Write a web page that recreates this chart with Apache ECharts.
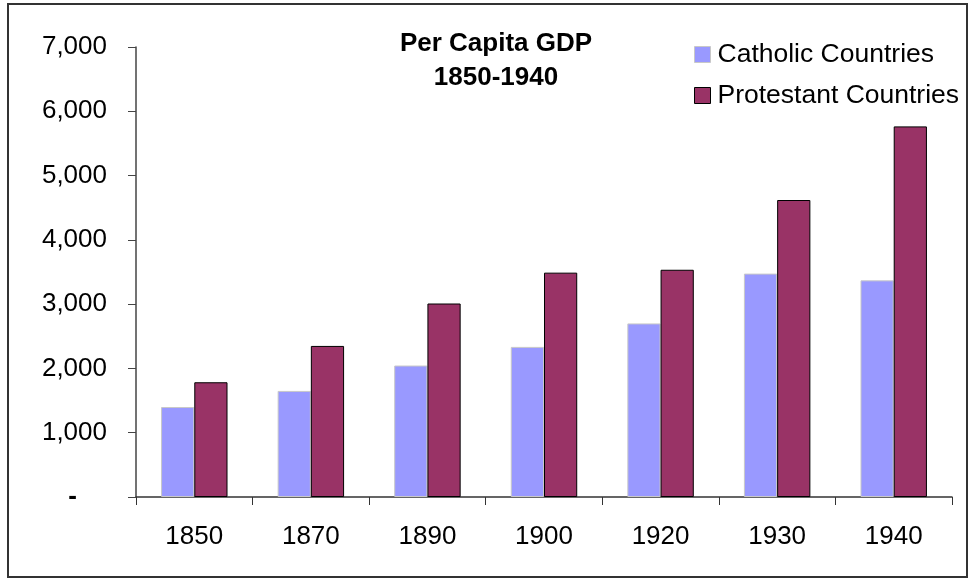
<!DOCTYPE html>
<html>
<head>
<meta charset="utf-8">
<script src="https://cdn.jsdelivr.net/npm/echarts@6/dist/echarts.min.js"></script>
<style>html,body{margin:0;padding:0;background:#fff;}#c{width:973px;height:581px;}</style>
</head>
<body>
<div id="c"></div>
<script>
const categories = ['1850', '1870', '1890', '1900', '1920', '1930', '1940'];
const catholic = [1400, 1650, 2045, 2335, 2700, 3475, 3370];
const protestant = [1785, 2350, 3010, 3490, 3535, 4620, 5765];
const yTicks = [0, 1000, 2000, 3000, 4000, 5000, 6000, 7000];

const chart = echarts.init(document.getElementById('c'), null, {renderer: 'canvas'});
const FONT = '"Liberation Sans", Arial, sans-serif';
chart.setOption({
  animation: false,
  backgroundColor: '#ffffff',
  textStyle: {fontFamily: FONT},
  title: {
    text: 'Per Capita GDP\n1850-1940',
    left: 496,
    top: 27,
    padding: 0,
    textAlign: 'center',
    textStyle: {fontFamily: FONT, fontSize: 26, fontWeight: 'bold', color: '#000', lineHeight: 34}
  },
  legend: {
    orient: 'vertical',
    left: 694,
    top: 41,
    padding: 0,
    itemWidth: 16,
    itemHeight: 16,
    itemGap: 14,
    textStyle: {fontFamily: FONT, fontSize: 26.5, color: '#000', lineHeight: 26, padding: [0, 0, 0, 2]},
    data: [
      {name: 'Catholic Countries', icon: 'rect', itemStyle: {color: '#9999FF', borderColor: '#c8c8c8', borderWidth: 1}},
      {name: 'Protestant Countries', icon: 'rect', itemStyle: {color: '#993366', borderColor: '#000', borderWidth: 1}}
    ]
  },
  grid: {left: 136, right: 21, top: 47, bottom: 84, containLabel: false},
  xAxis: {
    type: 'category',
    data: categories,
    axisLine: {lineStyle: {color: '#333', width: 1.5}},
    axisTick: {show: true, length: 8, inside: false, lineStyle: {color: '#333'}},
    axisLabel: {fontFamily: FONT, fontSize: 26, color: '#000', margin: 27}
  },
  yAxis: {
    type: 'value',
    min: yTicks[0],
    max: yTicks[yTicks.length - 1],
    interval: 1000,
    splitLine: {show: false},
    axisLine: {show: true, lineStyle: {color: '#444', width: 1.5}},
    axisTick: {show: true, length: 8, lineStyle: {color: '#444'}},
    axisLabel: {
      fontFamily: FONT, fontSize: 26, color: '#000', margin: 29,
      formatter: function (v) { return v === 0 ? '{d|-}' : v.toLocaleString('en-US'); },
      rich: {d: {fontFamily: FONT, fontSize: 26, fontWeight: 'bold', color: '#000', padding: [0, 30, 0, 0]}}
    }
  },
  series: [
    {
      name: 'Catholic Countries', type: 'bar', data: catholic,
      barGap: '0%', barCategoryGap: '43%',
      itemStyle: {color: '#9999FF', borderColor: '#c8c8c8', borderWidth: 1}
    },
    {
      name: 'Protestant Countries', type: 'bar', data: protestant,
      barGap: '0%', barCategoryGap: '43%',
      itemStyle: {color: '#993366', borderColor: '#000', borderWidth: 1}
    }
  ],
  graphic: [{
    type: 'rect', silent: true, z: 100,
    shape: {x: 8, y: 4, width: 959, height: 573},
    style: {fill: 'none', stroke: '#333', lineWidth: 2}
  }]
});
</script>
</body>
</html>
